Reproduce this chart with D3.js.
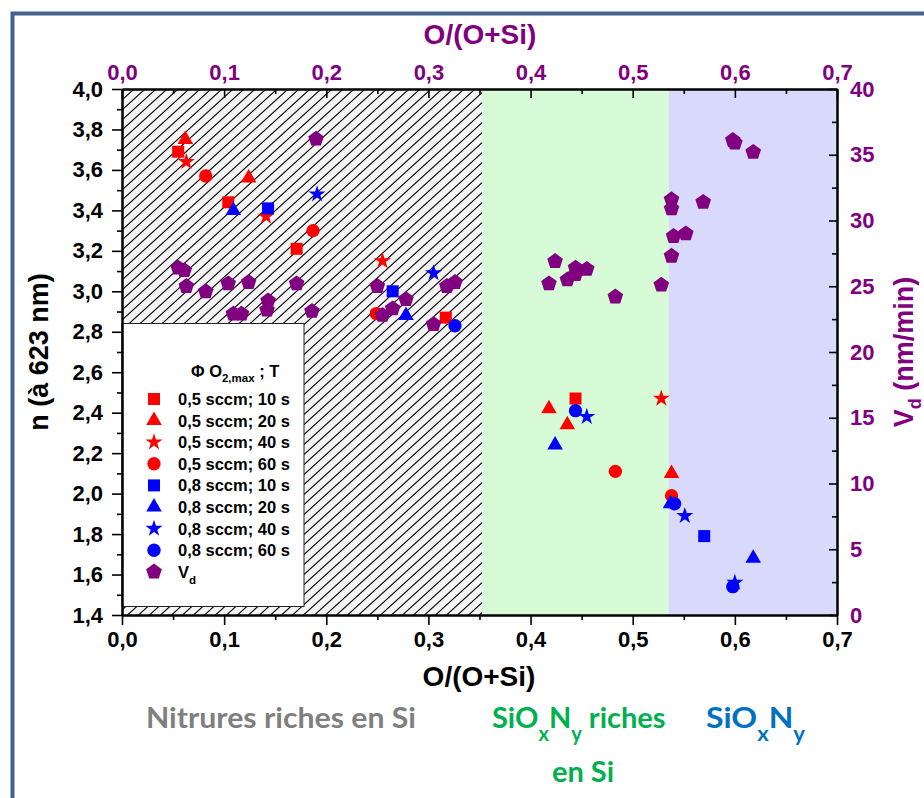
<!DOCTYPE html>
<html><head><meta charset="utf-8">
<script src="https://cdn.jsdelivr.net/npm/d3@7"></script>
<style>body{margin:0;background:#fff}svg{display:block}</style>
</head><body><svg id="c" width="924" height="798"></svg>
<script>
// ---------- data ----------
const xTicks = [0, 0.1, 0.2, 0.3, 0.4, 0.5, 0.6, 0.7];
const nTicks = [1.4, 1.6, 1.8, 2.0, 2.2, 2.4, 2.6, 2.8, 3.0, 3.2, 3.4, 3.6, 3.8, 4.0];
const vdTicks = [0, 5, 10, 15, 20, 25, 30, 35, 40];
const regionBounds = [0, 0.3527, 0.5352, 0.7];

const seriesLabels = ["0,5 sccm; 10 s", "0,5 sccm; 20 s", "0,5 sccm; 40 s", "0,5 sccm; 60 s",
                      "0,8 sccm; 10 s", "0,8 sccm; 20 s", "0,8 sccm; 40 s", "0,8 sccm; 60 s"];
const r10 = [[0.055,3.69],[0.104,3.44],[0.171,3.21],[0.317,2.87],[0.444,2.47]];
const r20 = [[0.062,3.75],[0.124,3.56],[0.418,2.42],[0.436,2.34],[0.538,2.10]];
const r40 = [[0.063,3.64],[0.141,3.37],[0.255,3.15],[0.528,2.47]];
const r60 = [[0.082,3.57],[0.187,3.30],[0.249,2.89],[0.483,2.11],[0.538,1.99]];
const b10 = [[0.143,3.41],[0.265,3.00],[0.570,1.79]];
const b20 = [[0.109,3.40],[0.278,2.88],[0.424,2.24],[0.537,1.95],[0.618,1.68]];
const b40 = [[0.191,3.48],[0.305,3.09],[0.455,2.38],[0.551,1.89],[0.600,1.56]];
const b60 = [[0.326,2.83],[0.444,2.41],[0.541,1.95],[0.598,1.54]];

const vdX = [0.190,0.055,0.061,0.063,0.082,0.104,0.124,0.171,0.109,0.117,0.143,0.142,0.186,
             0.250,0.255,0.265,0.278,0.305,0.318,0.326,0.424,0.418,0.436,0.444,0.444,0.455,
             0.483,0.528,0.538,0.538,0.569,0.540,0.552,0.538,0.598,0.600,0.618];
const vdY = [36.2,26.4,26.2,25.0,24.6,25.2,25.3,25.2,22.9,22.9,23.9,23.2,23.1,
             25.0,22.8,23.3,24.0,22.1,25.0,25.3,26.9,25.2,25.5,26.4,25.9,26.3,
             24.2,25.1,31.6,30.9,31.4,28.8,29.0,27.3,36.1,35.9,35.2];

// ---------- setup ----------
const svg = d3.select("#c");
const L = 122, R = 837, T = 89, B = 615;
const x = d3.scaleLinear().domain([0, 0.7]).range([L, R]);
const yN = d3.scaleLinear().domain([1.4, 4.0]).range([B, T]);
const yV = d3.scaleLinear().domain([0, 40]).range([B, T]);
const fmt = d => d3.format(".1f")(d).replace(".", ",");
const PURPLE = "#800080", RED = "#ff0000", BLUE = "#0000ff";
const FONT = "'Liberation Sans', Arial, sans-serif";

const symPent = { draw(ctx, size) {
  const r = Math.sqrt(size / (2.5 * Math.sin(2 * Math.PI / 5)));
  for (let i = 0; i < 5; i++) {
    const a = -Math.PI / 2 + i * 2 * Math.PI / 5;
    i ? ctx.lineTo(r * Math.cos(a), r * Math.sin(a)) : ctx.moveTo(r * Math.cos(a), r * Math.sin(a));
  }
  ctx.closePath();
}};
const symDef = {
  square: [d3.symbolSquare, 144], triangle: [d3.symbolTriangle, 105],
  star: [d3.symbolStar, 90], circle: [d3.symbolCircle, 140], pent: [symPent, 160]
};
const sym = k => d3.symbol().type(symDef[k][0]).size(symDef[k][1])();

// frame
svg.append("path").attr("d", "M12.5,798 V13.5 H924").attr("fill", "none")
  .attr("stroke", "#42628f").attr("stroke-width", 4);

// hatch pattern
const defs = svg.append("defs");
const pat = defs.append("pattern").attr("id", "hatch").attr("patternUnits", "userSpaceOnUse")
  .attr("width", 11).attr("height", 10).attr("x", L).attr("y", 0);
pat.append("path").attr("d", "M0,10 L11,0 M-2,1.82 L2,-1.82 M9,11.82 L13,8.18")
  .attr("stroke", "#000").attr("stroke-width", 1.1);

// regions
svg.append("rect").attr("x", x(regionBounds[0])).attr("y", T)
  .attr("width", x(regionBounds[1]) - x(regionBounds[0])).attr("height", B - T).attr("fill", "#f5f5f5");
svg.append("rect").attr("x", x(regionBounds[0])).attr("y", T)
  .attr("width", x(regionBounds[1]) - x(regionBounds[0])).attr("height", B - T).attr("fill", "url(#hatch)");
svg.append("rect").attr("x", x(regionBounds[1])).attr("y", T)
  .attr("width", x(regionBounds[2]) - x(regionBounds[1])).attr("height", B - T).attr("fill", "#d6fbd6");
svg.append("rect").attr("x", x(regionBounds[2])).attr("y", T)
  .attr("width", x(regionBounds[3]) - x(regionBounds[2])).attr("height", B - T).attr("fill", "#d9d9fc");

// legend box
svg.append("rect").attr("x", 122).attr("y", 323.5).attr("width", 182).attr("height", 283)
  .attr("fill", "#fff").attr("stroke", "#222").attr("stroke-width", 1);

// ---------- axes ----------
function styleAxis(g, color) {
  g.select(".domain").attr("stroke", "#000").attr("stroke-width", 2);
  g.selectAll(".tick line").attr("stroke", "#000").attr("stroke-width", 1.6);
  g.selectAll("text").attr("fill", color).attr("font-family", FONT)
    .attr("font-weight", "bold").attr("font-size", 22);
}
const minorX = d3.range(0.05, 0.7, 0.1);
const minorN = d3.range(1.5, 4.0, 0.2);
const minorV = d3.range(2.5, 40, 5);

svg.append("g").attr("transform", `translate(0,${B})`)
  .call(d3.axisBottom(x).tickValues(minorX).tickSize(5).tickFormat("").tickSizeOuter(0)).call(styleAxis, "#000");
svg.append("g").attr("transform", `translate(0,${B})`)
  .call(d3.axisBottom(x).tickValues(xTicks).tickSize(10).tickPadding(6).tickFormat(fmt).tickSizeOuter(0)).call(styleAxis, "#000");

svg.append("g").attr("transform", `translate(0,${T})`)
  .call(d3.axisTop(x).tickValues(minorX).tickSize(-5).tickFormat("").tickSizeOuter(0)).call(styleAxis, PURPLE);
svg.append("g").attr("transform", `translate(0,${T})`)
  .call(d3.axisTop(x).tickValues(xTicks).tickSize(-9).tickPadding(9).tickFormat(fmt).tickSizeOuter(0)).call(styleAxis, PURPLE);

svg.append("g").attr("transform", `translate(${L},0)`)
  .call(d3.axisLeft(yN).tickValues(minorN).tickSize(5).tickFormat("").tickSizeOuter(0)).call(styleAxis, "#000");
svg.append("g").attr("transform", `translate(${L},0)`)
  .call(d3.axisLeft(yN).tickValues(nTicks).tickSize(10).tickPadding(9).tickFormat(fmt).tickSizeOuter(0)).call(styleAxis, "#000");

svg.append("g").attr("transform", `translate(${R},0)`)
  .call(d3.axisRight(yV).tickValues(minorV).tickSize(-5).tickFormat("").tickSizeOuter(0)).call(styleAxis, PURPLE);
svg.append("g").attr("transform", `translate(${R},0)`)
  .call(d3.axisRight(yV).tickValues(vdTicks).tickSize(-8).tickPadding(13).tickFormat(d3.format("d")).tickSizeOuter(0)).call(styleAxis, PURPLE);

// axis titles
const title = (tx, ty, rot, color, size) => svg.append("text")
    .attr("transform", `translate(${tx},${ty}) rotate(${rot})`)
    .attr("text-anchor", "middle").attr("font-family", FONT).attr("font-weight", "bold")
    .attr("font-size", size).attr("fill", color);
title(480, 44, 0, PURPLE, 28).text("O/(O+Si)");
title(479, 686, 0, "#000", 28).text("O/(O+Si)");
title(48, 352, -90, "#000", 27).text("n (à 623 nm)");
const vt = title(913, 352, -90, PURPLE, 27);
vt.append("tspan").text("V");
vt.append("tspan").attr("dy", 8).attr("font-size", 18).text("d");
vt.append("tspan").attr("dy", -8).text(" (nm/min)");

// ---------- data points ----------
const series = [
  [r10, "square", RED], [r20, "triangle", RED], [r40, "star", RED], [r60, "circle", RED],
  [b10, "square", BLUE], [b20, "triangle", BLUE], [b40, "star", BLUE], [b60, "circle", BLUE]
];
series.forEach(([data, shape, color]) => {
  svg.append("g").selectAll("path").data(data).join("path")
    .attr("d", sym(shape)).attr("fill", color)
    .attr("transform", d => `translate(${x(d[0])},${yN(d[1])})`);
});
svg.append("g").selectAll("path").data(d3.zip(vdX, vdY)).join("path")
  .attr("d", sym("pent")).attr("fill", PURPLE)
  .attr("transform", d => `translate(${x(d[0])},${yV(d[1])})`);

// ---------- legend ----------
const lg = svg.append("g").attr("font-family", FONT).attr("font-weight", "bold").attr("font-size", 16.5);
const lt = lg.append("text").attr("x", 191).attr("y", 377);
lt.append("tspan").text("Φ O");
lt.append("tspan").attr("dy", 5).attr("font-size", 11.5).text("2,max");
lt.append("tspan").attr("dy", -5).text(" ; T");
series.forEach(([data, shape, color], i) => {
  const yy = 399 + i * 21.6;
  lg.append("path").attr("d", sym(shape)).attr("fill", color).attr("transform", `translate(154,${yy})`);
  lg.append("text").attr("x", 178).attr("y", yy + 6).text(seriesLabels[i]);
});
{
  const yy = 399 + 8 * 21.6;
  lg.append("path").attr("d", sym("pent")).attr("fill", PURPLE).attr("transform", `translate(154,${yy})`);
  const t = lg.append("text").attr("x", 178).attr("y", yy + 6);
  t.append("tspan").text("V");
  t.append("tspan").attr("dy", 6).attr("font-size", 11.5).text("d");
}

// ---------- bottom region labels ----------
const CAL = "Lato, 'Open Sans', sans-serif";
svg.append("text").attr("x", 146).attr("y", 728).attr("font-family", CAL).attr("font-weight", "bold")
  .attr("font-size", 29).attr("fill", "#7f7f7f").attr("textLength", 270).attr("lengthAdjust", "spacingAndGlyphs")
  .text("Nitrures riches en Si");
function sioxny(t, color) {
  t.attr("font-family", CAL).attr("font-weight", "bold").attr("font-size", 29).attr("fill", color);
  t.append("tspan").text("SiO");
  t.append("tspan").attr("dy", 13).attr("font-size", 20).text("x");
  t.append("tspan").attr("dy", -13).text("N");
  t.append("tspan").attr("dy", 13).attr("font-size", 20).text("y");
  return t;
}
const g1 = sioxny(svg.append("text").attr("x", 492).attr("y", 728), "#00b050");
g1.append("tspan").attr("dy", -13).text(" riches");
svg.append("text").attr("x", 583).attr("y", 782).attr("text-anchor", "middle").attr("font-family", CAL)
  .attr("font-weight", "bold").attr("font-size", 29).attr("fill", "#00b050").text("en Si");
sioxny(svg.append("text").attr("x", 706).attr("y", 728), "#0070c0")
  .attr("textLength", 99).attr("lengthAdjust", "spacingAndGlyphs");
</script></body></html>
